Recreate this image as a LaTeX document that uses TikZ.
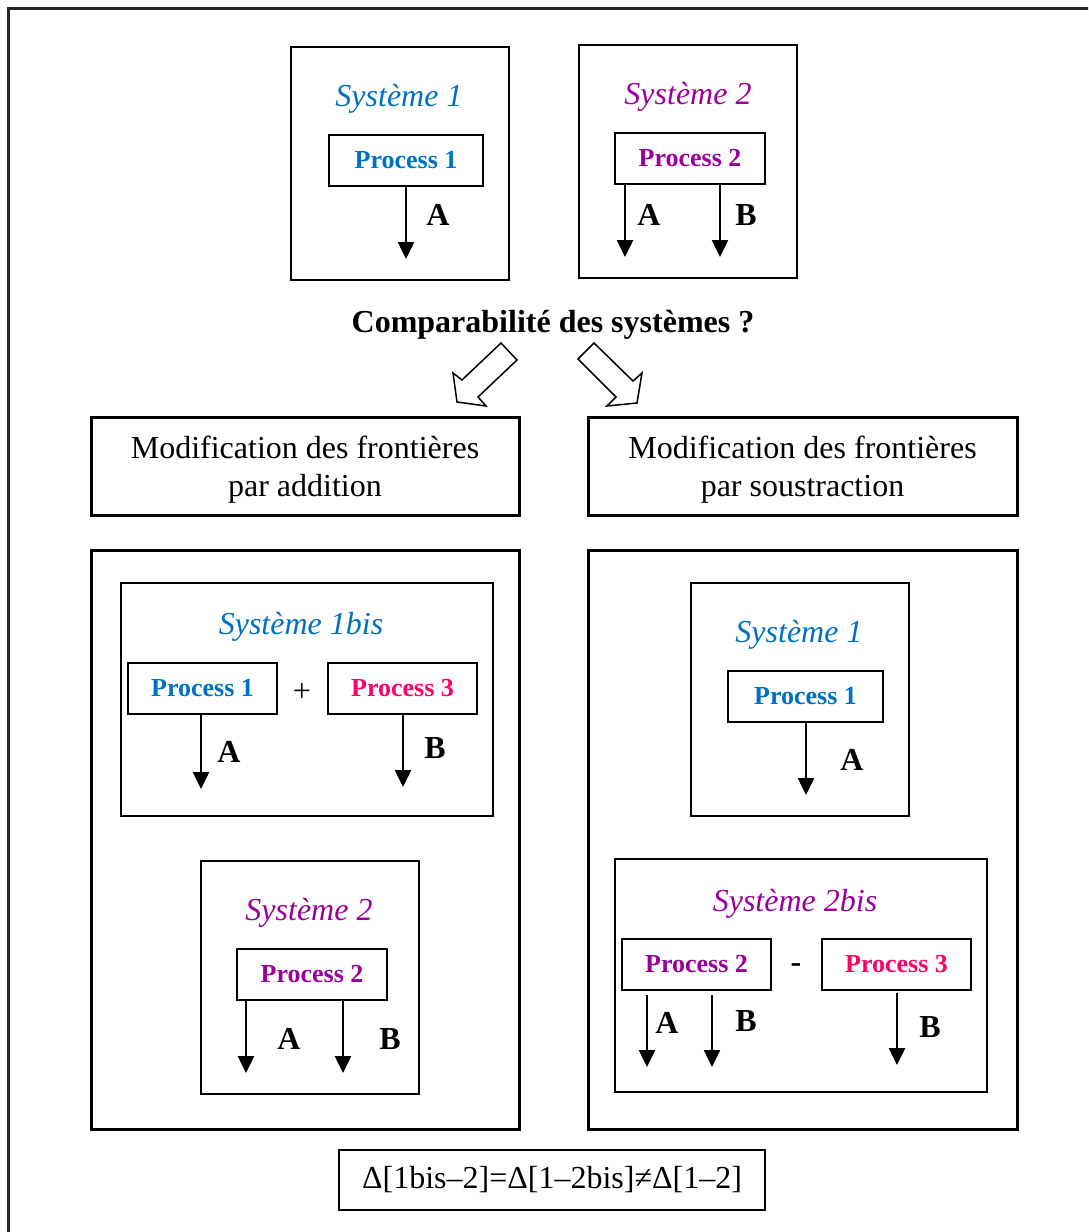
\documentclass[tikz,border=0pt]{standalone}
\usepackage{fontspec}
\setmainfont{Liberation Serif}
\usetikzlibrary{arrows.meta}
\definecolor{sysblue}{RGB}{0,112,192}
\definecolor{syspurple}{RGB}{153,0,153}
\definecolor{syspink}{RGB}{255,0,102}
\newcommand{\bigtxt}{\fontsize{32}{38}\selectfont}
\newcommand{\proctxt}{\fontsize{26}{31}\selectfont\bfseries}
\begin{document}
\begin{tikzpicture}[x=1pt,y=-1pt,
  thinbox/.style={draw,line width=1.5pt,inner sep=0pt,outer sep=0pt},
  thickbox/.style={draw,line width=3pt,inner sep=0pt,outer sep=0pt},
  procbox/.style={thinbox,font=\proctxt},
  systitle/.style={inner sep=0pt,anchor=base,font=\bigtxt\itshape},
  flow/.style={line width=2.5pt,-{Triangle[length=17pt,width=16pt]}},
  flowlabel/.style={inner sep=0pt,font=\bigtxt\bfseries},
  hollow/.style={draw,line width=1.5pt,line join=miter,fill=white}]
\useasboundingbox (0,0) rectangle (1088,1232);
\clip (0,0) rectangle (1088,1232);
% outer frame, running off the right and bottom edges
\draw[line width=2.5pt,black!85] (8.5,8.5) rectangle (1110,1260);

% --- top: the two systems to compare ---
\node[thinbox,minimum width=218pt,minimum height=233pt] (s1) at (400,163.5) {};
\node[systitle,text=sysblue] (s1t) at (399,106) {Système 1};
\node[procbox,text=sysblue,minimum width=154pt,minimum height=51pt] (p1a) at (406,160.5) {Process 1};
\coordinate (e1a) at (406,259);
\draw[flow] (p1a.south -| e1a) -- (e1a);
\node[flowlabel] (l1a) at (438,215) {A};

\node[thinbox,minimum width=218pt,minimum height=233pt] (s2) at (688,161.5) {};
\node[systitle,text=syspurple] (s2t) at (688,104) {Système 2};
\node[procbox,text=syspurple,minimum width=150pt,minimum height=51pt] (p2a) at (690,158.5) {Process 2};
\coordinate (e2a) at (625,257);
\coordinate (e2b) at (720,257);
\draw[flow] (p2a.south -| e2a) -- (e2a);
\draw[flow] (p2a.south -| e2b) -- (e2b);
\node[flowlabel] (l2a) at (649,215) {A};
\node[flowlabel] (l2b) at (746,215) {B};

\node[inner sep=0pt,anchor=base,font=\bigtxt\bfseries] (q) at (553,332) {Comparabilité des systèmes ?};

% hollow block arrows
\draw[hollow] (501,343) -- (517,360) -- (478,397) -- (486,406) -- (457,402) -- (453,373) -- (462,380) -- cycle;
\draw[hollow] (594,343) -- (578,359) -- (616,397) -- (607,406) -- (637,403) -- (642,373) -- (633,381) -- cycle;

% --- the two ways of changing the boundaries ---
\node[thickbox,minimum width=428pt,minimum height=98pt] (m1) at (305,466) {};
\node[inner sep=0pt,anchor=base,font=\bigtxt] (m1a) at (305,458) {Modification des frontières};
\node[inner sep=0pt,anchor=base,font=\bigtxt] (m1b) at (305,496) {par addition};
\node[thickbox,minimum width=429pt,minimum height=98pt] (m2) at (802.5,466) {};
\node[inner sep=0pt,anchor=base,font=\bigtxt] (m2a) at (802.5,458) {Modification des frontières};
\node[inner sep=0pt,anchor=base,font=\bigtxt] (m2b) at (802.5,496) {par soustraction};

\node[thickbox,minimum width=428pt,minimum height=579pt] (b1) at (305,839.5) {};
\node[thickbox,minimum width=429pt,minimum height=579pt] (b2) at (802.5,839.5) {};

% --- left: addition ---
\node[thinbox,minimum width=372pt,minimum height=233pt] (s1bis) at (307,699.5) {};
\node[systitle,text=sysblue] (s1bist) at (301,634) {Système 1bis};
\node[procbox,text=sysblue,minimum width=149pt,minimum height=51pt] (p1b) at (202.5,688.5) {Process 1};
\node[inner sep=0pt,font=\bigtxt] (plus) at (302,692) {+};
\node[procbox,text=syspink,minimum width=149pt,minimum height=51pt] (p3b) at (402.5,688.5) {Process 3};
\coordinate (e1b) at (201,789);
\coordinate (e3b) at (403,787);
\draw[flow] (p1b.south -| e1b) -- (e1b);
\draw[flow] (p3b.south -| e3b) -- (e3b);
\node[flowlabel] (l1b) at (229,752) {A};
\node[flowlabel] (l3b) at (435,748) {B};

\node[thinbox,minimum width=218pt,minimum height=233pt] (s2l) at (310,977.5) {};
\node[systitle,text=syspurple] (s2lt) at (309,920) {Système 2};
\node[procbox,text=syspurple,minimum width=150pt,minimum height=51pt] (p2b) at (312,974.5) {Process 2};
\coordinate (e2c) at (246,1073);
\coordinate (e2d) at (343,1073);
\draw[flow] (p2b.south -| e2c) -- (e2c);
\draw[flow] (p2b.south -| e2d) -- (e2d);
\node[flowlabel] (l2c) at (289,1039) {A};
\node[flowlabel] (l2d) at (390,1039) {B};

% --- right: subtraction ---
\node[thinbox,minimum width=218pt,minimum height=233pt] (s1r) at (800,699.5) {};
\node[systitle,text=sysblue] (s1rt) at (799,642) {Système 1};
\node[procbox,text=sysblue,minimum width=155pt,minimum height=51pt] (p1c) at (805.5,696.5) {Process 1};
\coordinate (e1c) at (806,795);
\draw[flow] (p1c.south -| e1c) -- (e1c);
\node[flowlabel] (l1c) at (852,760) {A};

\node[thinbox,minimum width=372pt,minimum height=233pt] (s2bis) at (801,975.5) {};
\node[systitle,text=syspurple] (s2bist) at (795,911) {Système 2bis};
\node[procbox,text=syspurple,minimum width=149pt,minimum height=51pt] (p2c) at (696.5,964.5) {Process 2};
\node[inner sep=0pt,font=\bigtxt\bfseries] (minus) at (796,968) {-};
\node[procbox,text=syspink,minimum width=149pt,minimum height=51pt] (p3c) at (896.5,964.5) {Process 3};
\coordinate (e2e) at (647,1067);
\coordinate (e2f) at (712,1067);
\coordinate (e3c) at (897,1065);
\draw[flow,shorten <=5pt] (p2c.south -| e2e) -- (e2e);
\draw[flow,shorten <=5pt] (p2c.south -| e2f) -- (e2f);
\draw[flow,shorten <=3pt] (p3c.south -| e3c) -- (e3c);
\node[flowlabel] (l2e) at (667,1023) {A};
\node[flowlabel] (l2f) at (746,1021) {B};
\node[flowlabel] (l3c) at (930,1027) {B};

% --- result ---
\node[thinbox,minimum width=426pt,minimum height=60pt,font=\bigtxt] (res) at (552,1180) {Δ[1bis–2]=Δ[1–2bis]≠Δ[1–2]};
\end{tikzpicture}
\end{document}
